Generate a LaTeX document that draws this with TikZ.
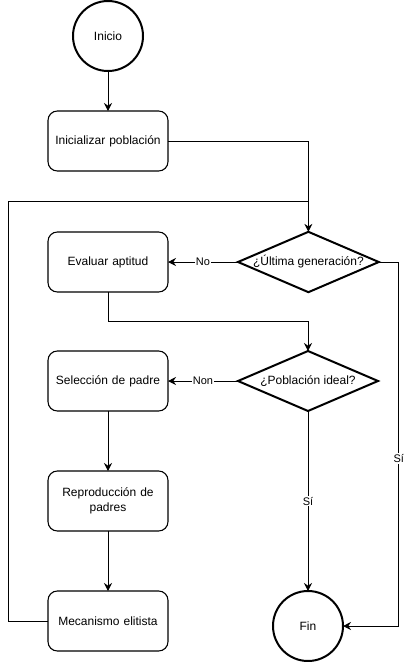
\documentclass[tikz,border=0pt]{standalone}
\usepackage{fontspec}
\setmainfont{Liberation Sans}
\usetikzlibrary{arrows.meta,positioning,shapes.geometric}

\begin{document}
\begin{tikzpicture}[x=0.75pt,y=-0.75pt,
 box/.style={draw,rounded corners=7pt,line width=0.8pt,align=center,outer sep=0pt,
   text width=80pt,minimum width=90pt,minimum height=45pt,font=\fontsize{9}{11}\selectfont},
 term/.style={draw,circle,line width=1.5pt,minimum size=52.5pt,inner sep=0pt,outer sep=0pt,
   font=\fontsize{9}{11}\selectfont},
 decision/.style={draw,diamond,line width=1.5pt,aspect=2.333,inner sep=0pt,outer sep=0pt,
   minimum width=105pt,minimum height=45pt,font=\fontsize{9}{11}\selectfont},
 arr/.style={-{Stealth[length=6pt,width=6pt,inset=2pt]},line width=0.75pt},
 line/.style={line width=0.75pt},
 lbl/.style={fill=white,inner sep=1pt,font=\fontsize{8.25}{10}\selectfont}]
 \useasboundingbox (0,0) rectangle (406,662);
 \node[term] (inicio) at (108,36) {Inicio};
 \node[box,below=30pt of inicio] (init) {Inicializar población};
 \node[box,below=45.75pt of init] (evaluar) {Evaluar aptitud};
 \node[decision,right=52.5pt of evaluar] (ultima) {¿Última generación?};
 \node[box,below=44.25pt of evaluar] (seleccion) {Selección de padre};
 \node[decision,right=52.5pt of seleccion] (ideal) {¿Población ideal?};
 \node[box,below=45pt of seleccion] (repro) {Reproducción de\\padres};
 \node[box,below=45pt of repro] (elite) {Mecanismo elitista};
 \node[term,below=135pt of ideal] (fin) {Fin};
 \coordinate[above=22.5pt of ultima.north] (join);
 \draw[arr] (inicio)--(init);
 \draw[arr] (init.east) -| (ultima.north);
 \draw[arr] (ultima.west)--node[lbl]{No}(evaluar.east);
 \draw[arr] (evaluar.south) -- ++(0,29) -| (ideal.north);
 \draw[arr] (ideal.west)--node[lbl]{Non}(seleccion.east);
 \draw[arr] (seleccion)--(repro);
 \draw[arr] (repro)--(elite);
 \draw[arr] (ideal.south)--node[lbl]{Sí}(fin.north);
 \draw[arr] (ultima.east) -- ++(20,0) |- node[lbl,pos=0.27]{Sí}(fin.east);
 \draw[line] (elite.west) -- ++(-40,0) |- (join);
\end{tikzpicture}
\end{document}
